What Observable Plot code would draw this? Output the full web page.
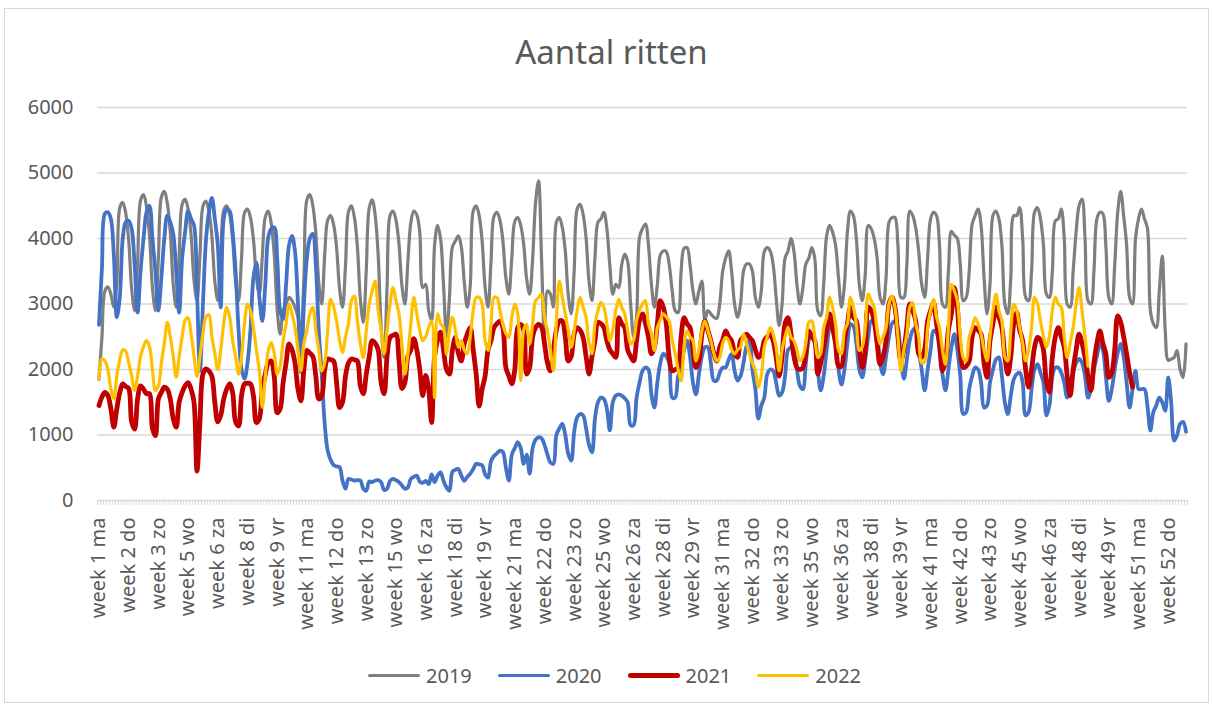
<!DOCTYPE html>
<html><head><meta charset="utf-8">
<script src="https://cdn.jsdelivr.net/npm/d3@7"></script>
<script src="https://cdn.jsdelivr.net/npm/@observablehq/plot@0.6"></script>
<style>
html,body{margin:0;padding:0;background:#fff;}
#wrap{position:relative;width:1213px;height:706px;overflow:hidden;font-family:"Noto Sans",sans-serif;}
#frame{position:absolute;left:4px;top:8px;width:1205px;height:695px;border:1px solid #d9d9d9;box-sizing:border-box;}
#title{position:absolute;left:0;top:29px;width:1223px;text-align:center;font-size:33px;line-height:45px;color:#595959;}
#chart{position:absolute;left:0;top:0;}
#legend{position:absolute;left:368px;top:662px;display:flex;align-items:center;font-size:20px;line-height:27px;color:#595959;}
.item{display:flex;align-items:center;margin-right:26px;}
.sw{width:52px;border-radius:3px;margin-right:6px;}
</style>
</head><body>
<div id="wrap">
  <div id="frame"></div>
  <div id="title">Aantal ritten</div>
  <div id="chart"></div>
  <div id="legend"></div>
</div>
<script>
// categories
const weeks = d3.range(1, 54);
const days = ["ma", "di", "wo", "do", "vr", "za", "zo"];
const yTicks = [0, 1000, 2000, 3000, 4000, 5000, 6000];
const seriesNames = ["2019", "2020", "2021", "2022"];

// daily values (one row per week)
const y2019 = [
1850,2500,3200,3260,3150,2950,3300,
4470,4550,4390,3970,3230,2900,3640,
4580,4670,4490,4050,3250,2900,3700,
4630,4720,4540,4100,3300,2950,3750,
4520,4600,4450,4060,3360,3050,3750,
4490,4570,4420,4040,3350,3050,3730,
4430,4500,4360,3990,3340,3050,3700,
4390,4450,4320,3990,3410,3150,3730,
4330,4420,4230,3760,2920,2540,2900,
3000,3100,3050,2950,2800,2600,3400,
4590,4670,4500,4090,3330,3000,3750,
4280,4350,4210,3860,3230,2950,3580,
4410,4500,4320,3880,3080,2720,3520,
4470,4590,4350,3750,2670,2185,3270,
4350,4420,4280,3920,3280,3000,3640,
4240,4420,4360,4100,3250,3300,2900,
2740,3900,4200,4000,3300,2500,3100,
3870,3960,4040,3870,3330,2950,3280,
4420,4500,4350,3960,3260,2950,3650,
4340,4400,4280,3960,3400,3150,3710,
4260,4320,4200,3910,3380,3150,3680,
4550,4880,3700,2540,3200,3150,2950,
4250,4320,4170,3810,3140,2850,3510,
4450,4520,4370,4010,3340,3050,3710,
4250,4300,4400,4150,3590,3150,3300,
3250,3600,3760,3650,3000,2500,2800,
4020,4150,4220,3900,3300,2950,3300,
3750,3810,3800,3600,3200,2900,2870,
3500,3850,3860,3600,3200,3000,3200,
3350,2750,2900,2850,2800,2780,3000,
3500,3700,3810,3500,3000,2800,3000,
3500,3610,3610,3500,3100,2950,3200,
3800,3860,3810,3600,3100,2670,3000,
3700,3810,4000,3800,3300,3000,3250,
3610,3700,3860,3700,2900,2820,3300,
4040,4200,4100,3900,3400,2950,3300,
4100,4420,4350,4000,3300,3050,3450,
4200,4150,4000,3700,3100,3000,3400,
4250,4320,4320,3900,3100,3100,3600,
4420,4350,4160,3800,3300,3100,3700,
4300,4400,4350,3900,3000,2950,3500,
4110,4050,4000,3600,3050,3100,3500,
4220,4350,4450,4200,3400,2850,3300,
4350,4420,4300,3900,3000,2850,3400,
4350,4350,4470,4000,3100,3050,3500,
4400,4470,4300,3900,3150,3100,3500,
4270,4300,4450,4000,3000,2950,3500,
4100,4500,4600,4000,3050,3000,3500,
4300,4400,4380,3900,3100,3000,3600,
4400,4720,4350,3900,3100,3000,4000,
4300,4450,4300,4160,2900,2700,2640,
3200,3730,2600,2140,2160,2185,2290,
2000,1880,2390];

const y2020 = [
2680,3560,4380,4400,4300,3750,2800,
3100,4000,4250,4270,4150,3600,2870,
3500,4000,4400,4500,4000,3500,2900,
3400,4000,4350,4250,4070,3500,2870,
3700,4100,4420,4300,4200,3200,1980,
3000,3960,4400,4620,4300,3900,2950,
4300,4450,4420,4100,3500,2600,2000,
1860,2100,2600,3400,3630,3100,2740,
3300,4020,4150,4170,3700,2900,2770,
3300,3900,4040,3800,3000,1960,3000,
3700,4000,4070,3600,2600,1930,1170,
760,620,540,520,510,300,180,
330,320,305,310,305,180,150,
290,280,305,310,280,160,180,
300,330,310,280,230,180,200,
330,360,380,290,270,300,250,
400,280,380,430,300,200,150,
440,470,480,380,300,360,410,
480,560,550,540,400,350,600,
680,720,760,740,500,305,700,
800,890,800,560,700,410,800,
930,965,950,850,700,580,560,
1000,1100,1170,1000,710,610,1050,
1270,1320,1300,1100,850,735,1250,
1500,1570,1550,1400,1070,1500,1600,
1620,1600,1560,1500,1150,1150,1570,
1800,1980,2030,2000,1620,1420,1800,
2100,2240,2200,2100,1570,1570,1900,
2030,2300,2440,2200,1800,1620,1930,
2200,2340,2340,2100,1830,1830,1950,2030,
2030,2150,2240,1980,1830,1900,2100,
2350,2440,2000,1700,1250,1450,1570,
1930,2000,1980,1800,1600,1650,1900,
2300,2340,2340,2000,1750,1700,2100,
2450,2540,2400,2000,1680,1900,2300,
2640,2720,2500,2000,1770,2000,2400,
2690,2660,2400,2000,1880,2150,2500,
2740,2700,2550,2100,1930,2200,2500,
2700,2740,2640,2200,1860,2150,2450,
2600,2640,2300,2000,1680,2000,2300,
2590,2560,2300,1930,1680,2000,2340,
2540,2300,1900,1320,1350,1700,1900,
2030,2000,1800,1420,1450,1800,2000,
2150,2185,1900,1500,1320,1600,1850,
1930,1950,1800,1300,1350,1700,2000,
2080,1950,1800,1300,1450,1900,2030,
2030,1950,1800,1570,1700,1950,2100,
2160,2100,1900,1570,1700,2000,2200,
2390,2300,1900,1520,1700,2000,2250,
2390,2200,1800,1420,1700,1980,1700,
1700,1700,1450,1070,1350,1450,1570,
1500,1370,1880,1500,915,1000,1170,
1200,1050];

const y2021 = [
1450,1580,1650,1600,1400,1120,1400,
1650,1780,1740,1710,1200,1090,1550,
1750,1700,1630,1630,1100,990,1550,
1650,1730,1700,1550,1250,1120,1500,
1650,1750,1800,1700,1500,450,1200,
1930,2010,1980,1900,1500,1200,1300,
1550,1700,1780,1650,1200,1140,1600,
1780,1790,1780,1600,1190,1250,1700,
1930,2100,2130,1900,1340,1400,1800,
2100,2390,2300,2100,1700,1520,2000,
2290,2250,2200,1900,1550,1600,2000,
2160,2150,2130,1800,1420,1500,1900,
2100,2160,2150,2130,1750,1630,1930,
2200,2440,2400,2300,1800,1630,2200,
2490,2520,2540,2150,1710,1800,2200,
2300,2470,2300,2000,1600,1910,1700,
1190,2200,2450,2570,2300,2000,1930,
2300,2490,2250,2130,2400,2540,2640,
2300,1930,1440,1700,1900,2300,2440,
2640,2700,2740,2640,2030,1900,1780,
2000,2640,2690,2600,1930,2030,2500,
2640,2690,2650,2400,2100,1980,2300,
2600,2740,2740,2500,2130,2200,2540,
2640,2600,2490,2200,1930,2200,2440,
2720,2700,2640,2440,2300,2240,2185,
2790,2700,2640,2300,2200,2130,2440,
2750,2850,2700,2500,2240,2340,2700,
3050,2950,2700,2185,1980,2000,2030,
2500,2790,2700,2640,2300,2030,2130,
2540,2740,2600,2440,2250,2130,2340,
2450,2590,2500,2440,2250,2185,2440,
2500,2540,2490,2440,2300,2185,2240,
2440,2500,2540,2440,2185,1900,2200,
2700,2790,2540,2200,2030,2000,2030,
2240,2590,2500,2440,1930,2100,2340,
2600,2850,2640,2400,2050,2050,2440,
2700,2950,2800,2740,2300,2030,2300,
2950,2900,2740,2400,2080,2200,2440,
3000,3100,2950,2500,2130,2300,2640,
3000,2900,2740,2240,2185,2300,2740,
2900,3020,2700,2400,1980,2130,2600,
2850,3250,2950,2300,2030,2050,2130,
2500,2640,2600,2540,2100,1880,2440,
2700,2950,2800,2640,2200,1930,2200,
2700,2870,2600,2440,2000,1730,2000,
2340,2490,2450,2300,1800,1650,2185,
2500,2640,2500,2340,1900,1600,2000,
2300,2540,2400,2185,1900,1680,2100,
2400,2590,2400,2240,1880,1950,2300,
2820,2720,2500,2240,1950,1730];

const y2022 = [
1860,2160,2130,2000,1700,1550,1900,
2150,2300,2280,2100,1900,1680,1900,
2200,2350,2440,2350,2000,1680,1750,
2100,2400,2720,2500,2200,1880,2200,
2500,2750,2790,2550,2200,1900,2200,
2550,2800,2840,2500,2250,2000,2300,
2700,2950,2800,2440,2200,1930,2200,
2700,3000,2900,2640,2300,1980,1420,
1900,2290,2410,2250,1930,2050,2440,
2700,3000,2850,2640,2300,1980,2400,
2600,2850,2950,2600,2300,1980,2100,
2600,3070,2950,2740,2450,2260,2500,
2700,3050,3120,2740,2400,2180,2600,
3000,3200,3350,2900,2600,2240,2600,
3000,3250,3050,2850,2390,1930,2240,
2700,3100,2850,2600,2440,2500,2640,
2740,1570,2850,2700,2640,2240,2600,
2800,2600,2340,2440,2300,2240,2500,
2900,3100,3100,3000,2440,2290,2700,
3100,3100,2900,2690,2550,2490,2800,
3000,2850,1830,2600,2690,2390,2700,
3050,3100,3150,2800,2590,2300,1980,
2740,3350,3100,2850,2600,2340,2590,
2900,3100,2950,2800,2400,2240,2700,
2900,3020,2950,2700,2440,2600,2900,
3070,2950,2850,2600,2390,2450,2740,
2900,3000,3050,2700,2550,2290,2640,
2750,2850,2800,2740,2450,2240,2000,
1830,2340,2590,2500,2440,2130,2300,
2590,2740,2600,2440,2250,2130,2185,
2400,2490,2440,2300,2240,2300,2340,
2540,2400,2240,2100,1980,1730,1900,
2340,2500,2640,2540,2340,1980,2300,
2500,2640,2490,2440,2300,2130,2200,
2400,2720,2740,2500,2185,2250,2640,
2800,3100,2950,2700,2300,2240,2600,
2700,3100,2950,2700,2290,2350,2640,
3150,3050,2950,2600,2390,2500,2640,
3000,3120,2950,2500,1980,2300,2540,
2950,3020,2700,2500,2100,2120,2640,
2900,3070,2800,2640,2300,2080,2640,
3300,3200,3050,2500,2180,2130,2500,
2640,2790,2700,2540,2300,2130,2500,
2900,3150,2900,2740,2200,2130,2600,
3000,2900,2640,2400,2130,2300,2640,
3100,3000,2740,2500,2340,2500,2900,
3100,3000,2950,2500,2185,2400,2640,
3000,3250,2900,2500,2050];

const colors = ["#7f7f7f", "#4472c4", "#c00000", "#ffc000"];
const widths = [3.2, 3.8, 4.8, 3.2];
const values = [y2019, y2020, y2021, y2022];

const n = y2019.length;
const categories = d3.range(n).map(i => `week ${weeks[Math.floor(i / 7)]} ${days[i % 7]}`);
const labelIdx = d3.range(0, n, 10);

const chart = Plot.plot({
  width: 1213,
  height: 650,
  marginLeft: 97,
  marginRight: 26,
  marginTop: 107,
  marginBottom: 150,
  x: {type: "linear", domain: [-0.5, n - 0.5]},
  y: {domain: [0, 6000]},
  style: {fontFamily: "Noto Sans", fontSize: "20px", color: "#595959", background: "transparent", overflow: "visible"},
  marks: [
    Plot.gridY(yTicks, {stroke: "#d9d9d9", strokeOpacity: 1, strokeWidth: 1.3}),
    Plot.axisY(yTicks, {tickSize: 0, tickPadding: 24, tickFormat: d => String(d), label: null}),
    Plot.axisX(d3.range(n + 1).map(i => i - 0.5), {tickSize: 5, tickFormat: () => "", stroke: "#d9d9d9", strokeOpacity: 1, label: null}),
    Plot.axisX(labelIdx, {tickSize: 0, tickPadding: 17, tickRotate: -90, tickFormat: i => categories[i], label: null}),
    ...values.map((v, k) => Plot.lineY(v, {
      x: (d, i) => i, y: d => d,
      stroke: colors[k], strokeWidth: widths[k], curve: "catmull-rom"
    }))
  ]
});
document.getElementById("chart").appendChild(chart);

const legend = document.getElementById("legend");
seriesNames.forEach((name, k) => {
  const item = document.createElement("div");
  item.className = "item";
  const sw = document.createElement("div");
  sw.className = "sw";
  sw.style.background = colors[k];
  sw.style.height = (widths[k] - 0.2) + "px";
  const t = document.createElement("span");
  t.textContent = name;
  item.appendChild(sw);
  item.appendChild(t);
  legend.appendChild(item);
});
</script>
</body></html>
